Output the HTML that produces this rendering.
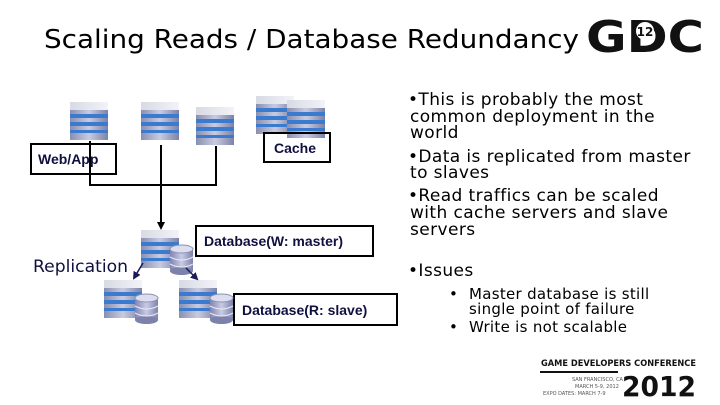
<!DOCTYPE html>
<html><head><meta charset="utf-8"><style>
html,body{margin:0;padding:0;background:#fff;}
body{width:720px;height:405px;overflow:hidden;position:relative;}
.t{position:absolute;font-family:"DejaVu Sans","Liberation Sans",sans-serif;color:#000;white-space:nowrap;font-size:17px;letter-spacing:0.4px;line-height:16px;}
.s{font-size:15px;letter-spacing:0.3px;line-height:14px;}
</style></head><body>
<svg width="720" height="405" style="position:absolute;left:0;top:0">
<defs>
<linearGradient id="sv" x1="0" x2="1"><stop offset="0" stop-color="#8a8fb0"/><stop offset="0.5" stop-color="#c8cbe0"/><stop offset="1" stop-color="#7d82a6"/></linearGradient>
<linearGradient id="tp" x1="0" x2="1"><stop offset="0" stop-color="#d8dae4"/><stop offset="1" stop-color="#f2f3f8"/></linearGradient>
<linearGradient id="cy" x1="0" x2="1"><stop offset="0" stop-color="#7f84b0"/><stop offset="0.5" stop-color="#c9cbe6"/><stop offset="1" stop-color="#7d82ab"/></linearGradient>
<g id="srv">
<rect x="0" y="6" width="38" height="32" fill="url(#sv)"/>
<rect x="0" y="0" width="38" height="8" fill="url(#tp)"/>
<rect x="0" y="12" width="38" height="4" fill="#3a7bd0"/>
<rect x="0" y="20" width="38" height="4" fill="#3a7bd0"/>
<rect x="0" y="28" width="38" height="3" fill="#3a7bd0"/>
</g>
<g id="cyl">
<rect x="0" y="4" width="23" height="22" fill="url(#cy)"/>
<ellipse cx="11.5" cy="26" rx="11.5" ry="4" fill="#7d82ab"/>
<ellipse cx="11.5" cy="4" rx="11.5" ry="4" fill="#dcdef0" stroke="#8a8fb0"/>
<path d="M0 12 q11.5 6 23 0 M0 19 q11.5 6 23 0" stroke="#e8e9f5" fill="none"/>
</g>
<marker id="ar" markerWidth="8" markerHeight="8" refX="6" refY="4" orient="auto" markerUnits="userSpaceOnUse"><path d="M0 0 L8 4 L0 8z" fill="#000"/></marker>
<marker id="ar2" markerWidth="8" markerHeight="8" refX="6" refY="4" orient="auto" markerUnits="userSpaceOnUse"><path d="M0 0 L8 4 L0 8z" fill="#1a1a5a"/></marker>
</defs>
<text x="44" y="48" font-family="DejaVu Sans,sans-serif" font-size="26" fill="#000" textLength="535" lengthAdjust="spacingAndGlyphs">Scaling Reads / Database Redundancy</text>
<text x="586" y="52" font-family="DejaVu Sans,sans-serif" font-weight="bold" font-size="44" fill="#111" textLength="118" lengthAdjust="spacingAndGlyphs">GDC</text>
<circle cx="645" cy="31" r="9" fill="#fff"/>
<text x="645" y="36" font-family="DejaVu Sans,sans-serif" font-weight="bold" font-size="12" text-anchor="middle" fill="#111">12</text>

<use href="#srv" x="70" y="102"/>
<use href="#srv" x="141" y="102"/>
<use href="#srv" x="196" y="107"/>
<use href="#srv" x="256" y="96"/>
<use href="#srv" x="287" y="100"/>

<g stroke="#000" stroke-width="2" fill="none">
<path d="M90 141 V185 H216 V146"/>
<path d="M161 145 V228" marker-end="url(#ar)"/>
<rect x="31" y="144" width="85" height="30"/>
<rect x="264" y="133" width="66" height="29"/>
<rect x="196" y="226" width="177" height="30"/>
<rect x="234" y="294" width="163" height="31"/>
</g>
<text x="38" y="164" font-family="Liberation Sans,sans-serif" font-weight="bold" font-size="14" fill="#101040">Web/App</text>
<text x="274" y="153" font-family="Liberation Sans,sans-serif" font-weight="bold" font-size="14" fill="#101040">Cache</text>
<text x="204" y="246" font-family="Liberation Sans,sans-serif" font-weight="bold" font-size="14" fill="#101040">Database(W: master)</text>
<text x="242" y="315" font-family="Liberation Sans,sans-serif" font-weight="bold" font-size="14" fill="#101040">Database(R: slave)</text>

<use href="#srv" x="141" y="230"/>
<use href="#cyl" x="170" y="245"/>
<use href="#srv" x="104" y="280"/>
<use href="#cyl" x="135" y="294"/>
<use href="#srv" x="179" y="280"/>
<use href="#cyl" x="210" y="294"/>
<g stroke="#1a1a5a" stroke-width="1.5">
<line x1="143" y1="263" x2="134" y2="278" marker-end="url(#ar2)"/>
<line x1="186" y1="268" x2="197" y2="279" marker-end="url(#ar2)"/>
</g>
<text x="33" y="272" font-family="DejaVu Sans,sans-serif" font-size="17" fill="#101040" textLength="95" lengthAdjust="spacingAndGlyphs">Replication</text>

<line x1="540" y1="372" x2="618" y2="372" stroke="#111" stroke-width="2"/>
<text x="541" y="366" font-family="DejaVu Sans,sans-serif" font-weight="bold" font-size="9" fill="#111" textLength="155" lengthAdjust="spacingAndGlyphs">GAME DEVELOPERS CONFERENCE</text>
<text x="622" y="396" font-family="DejaVu Sans,sans-serif" font-weight="bold" font-size="28" fill="#111" textLength="74" lengthAdjust="spacingAndGlyphs">2012</text>
<text x="572" y="381" font-family="DejaVu Sans,sans-serif" font-size="5" fill="#555">SAN FRANCISCO, CA</text>
<text x="575" y="388" font-family="DejaVu Sans,sans-serif" font-size="5" fill="#555">MARCH 5-9, 2012</text>
<text x="543" y="395" font-family="DejaVu Sans,sans-serif" font-size="5" fill="#555">EXPO DATES: MARCH 7-9</text>
</svg>
<div class="t" style="left:408px;top:92px">•This is probably the most</div>
<div class="t" style="left:410px;top:109px">common deployment in the</div>
<div class="t" style="left:410px;top:125px">world</div>
<div class="t" style="left:408px;top:149px">•Data is replicated from master</div>
<div class="t" style="left:410px;top:165px">to slaves</div>
<div class="t" style="left:408px;top:188px">•Read traffics can be scaled</div>
<div class="t" style="left:410px;top:205px">with cache servers and slave</div>
<div class="t" style="left:410px;top:222px">servers</div>
<div class="t" style="left:408px;top:263px">•Issues</div>
<div class="t s" style="left:449px;top:287px">•</div>
<div class="t s" style="left:469px;top:287px">Master database is still</div>
<div class="t s" style="left:469px;top:302px">single point of failure</div>
<div class="t s" style="left:449px;top:320px">•</div>
<div class="t s" style="left:469px;top:320px">Write is not scalable</div>
</body></html>
